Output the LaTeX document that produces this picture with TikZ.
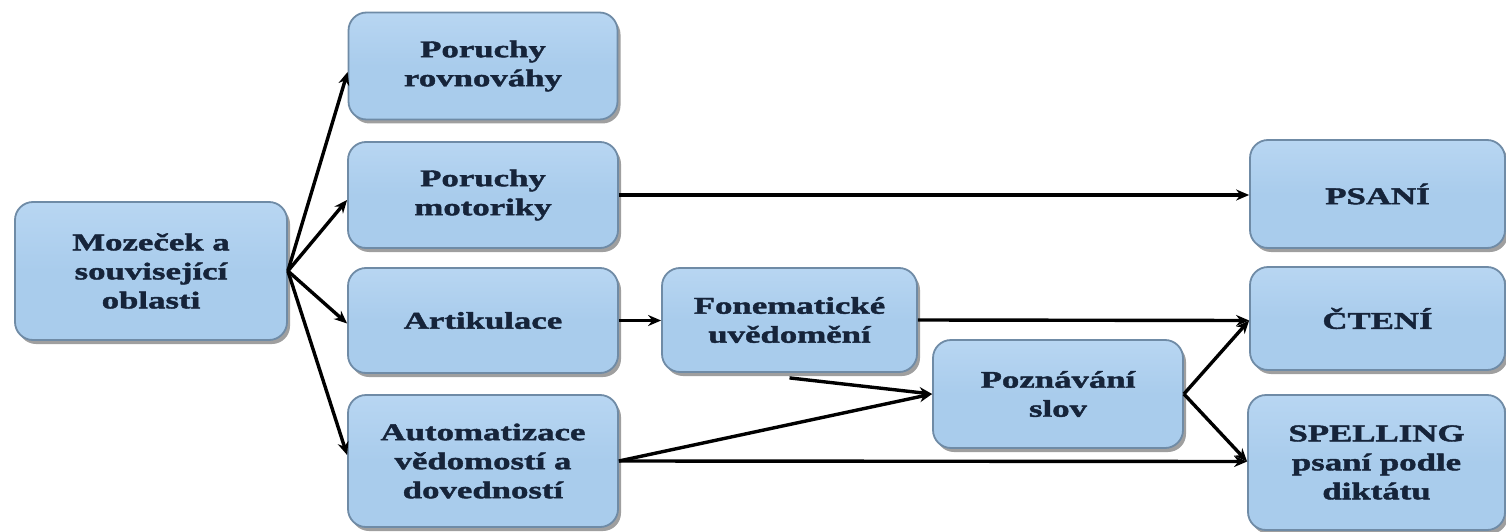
\documentclass[tikz,border=0pt]{standalone}
\usepackage{fontspec}
\newfontfamily\boxfont[FakeStretch=1.45,FakeBold=1.8]{Liberation Serif Bold}
\usetikzlibrary{shadows,arrows.meta}
\definecolor{boxfill}{HTML}{A9CCEC}
\definecolor{boxtop}{HTML}{B8D6F2}
\definecolor{boxline}{HTML}{6F8BA6}
\definecolor{boxtext}{HTML}{16243A}
\tikzset{
  blk/.style={draw=boxline, line width=1.8pt, rounded corners=18pt,
    top color=boxtop, bottom color=boxfill, middle color=boxfill,
    text=boxtext, align=center, inner sep=0pt,
    font=\boxfont\fontsize{24}{29}\selectfont,
    drop shadow={shadow xshift=3pt, shadow yshift=-4pt, opacity=0.5, fill=black!75}},
  conn/.style={line width=3.4pt, draw=black, -{Stealth[length=13pt,width=11pt]}}
}
\begin{document}
\begin{tikzpicture}[x=1pt,y=-1pt]
\useasboundingbox[fill=white] (0,0) rectangle (1506,532);
\node[blk, minimum width=272pt, minimum height=138pt] (moz) at (151,271) {Mozeček a\\související\\oblasti};
\node[blk, minimum width=269pt, minimum height=107pt] (rov) at (483,66) {Poruchy\\rovnováhy};
\node[blk, minimum width=270pt, minimum height=106pt] (mot) at (483,195) {Poruchy\\motoriky};
\node[blk, minimum width=270pt, minimum height=105pt] (art) at (483,320.5) {Artikulace};
\node[blk, minimum width=270pt, minimum height=132pt] (aut) at (483,461) {Automatizace\\vědomostí a\\dovedností};
\node[blk, minimum width=255pt, minimum height=104pt] (fon) at (789.5,320) {Fonematické\\uvědomění};
\node[blk, minimum width=250pt, minimum height=108pt] (poz) at (1058,394) {Poznávání\\slov};
\node[blk, minimum width=255pt, minimum height=108pt] (psa) at (1377.5,194) {PSANÍ};
\node[blk, minimum width=255pt, minimum height=103pt] (cte) at (1377.5,318.5) {ČTENÍ};
\node[blk, minimum width=257pt, minimum height=135pt] (spe) at (1376.5,462.5) {SPELLING\\psaní podle\\diktátu};
\coordinate (fonlow) at ([yshift=-5pt]fon.south);
% fan from moz
\draw[conn] (moz.east) -- ([yshift=-6pt]rov.west);
\draw[conn] (moz.east) -- ([yshift=-5pt]mot.west);
\draw[conn] (moz.east) -- ([yshift=-3pt]art.west);
\draw[conn] (moz.east) -- ([yshift=6pt]aut.west);
% others
\draw[conn] (mot.east) -- (mot.east -| psa.west);
\draw[conn] (art.east) -- (art.east -| fon.west);
\draw[conn] (fon.east) -- ([yshift=-2pt]cte.west);
\draw[conn] (fonlow) -- (poz.west);
\draw[conn] (aut.east) -- (poz.west);
\draw[conn] (aut.east) -- ([yshift=1pt]spe.west);
\draw[conn] (poz.east) -- ([yshift=-2pt]cte.west);
\draw[conn] (poz.east) -- ([yshift=1pt]spe.west);
\end{tikzpicture}
\end{document}
